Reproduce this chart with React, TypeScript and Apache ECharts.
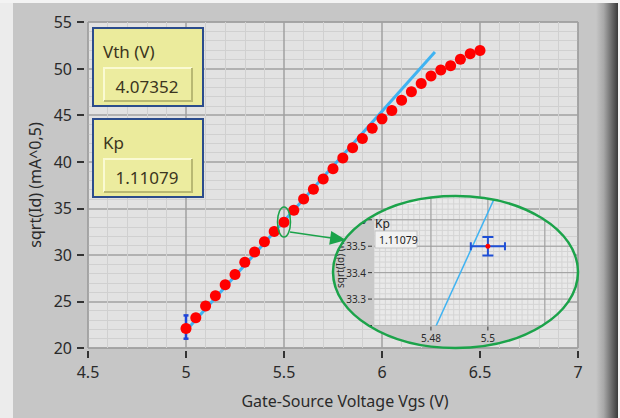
import React, { useEffect, useRef } from "react";
import * as echarts from "echarts";

// ---- data ----
const vgs = [5.0, 5.05, 5.1, 5.15, 5.2, 5.25, 5.3, 5.35, 5.4, 5.45, 5.5, 5.55, 5.6, 5.65, 5.7, 5.75, 5.8, 5.85, 5.9, 5.95, 6.0, 6.05, 6.1, 6.15, 6.2, 6.25, 6.3, 6.35, 6.4, 6.45, 6.5];
const sqrtId = [22.1, 23.25, 24.5, 25.6, 26.8, 27.9, 29.2, 30.3, 31.4, 32.5, 33.5, 34.8, 36.0, 37.05, 38.15, 39.25, 40.4, 41.5, 42.5, 43.6, 44.6, 45.5, 46.6, 47.5, 48.4, 49.2, 49.85, 50.3, 51.0, 51.6, 51.95];
const fitX = [5.0, 6.27];
const fitY = [21.84, 51.78];
const errBarMain = [5.0, 21.0, 23.5]; // x, low, high

const vthLabel = "Vth (V)";
const vthValue = "4.07352";
const kpLabel = "Kp";
const kpValue = "1.11079";

const xTitle = "Gate-Source Voltage Vgs (V)";
const yTitle = "sqrt(Id) (mA^0,5)";

// zoomed inset
const insetPoint = [5.5, 33.5];
const insetErrX = [5.494, 5.506];
const insetErrY = [33.465, 33.535];
const insetXTicks = [5.48, 5.5, 5.52];
const insetYTicks = [33.2, 33.3, 33.4, 33.5, 33.6];
const insetYTitle = "sqrt(Id) (mA^0,5)";

const FONT = '"Noto Sans", "Open Sans", sans-serif';
const TXT = "#2a2a2a";
const GREEN = "#1ba34a";
const ELL = { cx: 455.5, cy: 272, rx: 122.5, ry: 76 };

function fmtTick(v: number) {
  return String(parseFloat(v.toFixed(3)));
}

function insetRender(params: any, api: any) {
  const cs = params.coordSys;
  const px = (x: number, y: number) => api.coord([x, y]);
  const bottom = cs.y + cs.height;
  const right = cs.x + cs.width;
  const inner: any[] = [];
  inner.push({ type: "rect", shape: { x: cs.x, y: cs.y, width: cs.width, height: cs.height }, style: { fill: "#e9e9e9" } });
  for (let i = 0; i <= 40; i++) {
    const v = 5.46 + i * 0.002;
    const a = px(v, 33.3);
    inner.push({ type: "line", shape: { x1: a[0], y1: cs.y, x2: a[0], y2: bottom }, style: { stroke: "#d4d4d4", lineWidth: 1 } });
  }
  for (let j = 0; j <= 30; j++) {
    const v = 33.2 + j * 0.02;
    const a = px(5.5, v);
    inner.push({ type: "line", shape: { x1: cs.x, y1: a[1], x2: right, y2: a[1] }, style: { stroke: "#d4d4d4", lineWidth: 1 } });
  }
  insetXTicks.forEach((t) => {
    const a = px(t, 33.3);
    inner.push({ type: "line", shape: { x1: a[0], y1: cs.y, x2: a[0], y2: bottom }, style: { stroke: "#9c9c9c", lineWidth: 1 } });
  });
  insetYTicks.forEach((t) => {
    const a = px(5.5, t);
    inner.push({ type: "line", shape: { x1: cs.x, y1: a[1], x2: right, y2: a[1] }, style: { stroke: "#9c9c9c", lineWidth: 1 } });
  });
  const f1 = px(fitX[0], fitY[0]);
  const f2 = px(fitX[1], fitY[1]);
  inner.push({ type: "line", shape: { x1: f1[0], y1: f1[1], x2: f2[0], y2: f2[1] }, style: { stroke: "#3fb3f2", lineWidth: 1.5 } });
  // error cross
  const c = px(api.value(0), api.value(1));
  const xl = px(api.value(2), api.value(1));
  const xr = px(api.value(3), api.value(1));
  const yl = px(api.value(0), api.value(4));
  const yh = px(api.value(0), api.value(5));
  const eb = { stroke: "#1e4fd6", lineWidth: 2 };
  inner.push({ type: "line", shape: { x1: xl[0], y1: c[1], x2: xr[0], y2: c[1] }, style: eb });
  inner.push({ type: "line", shape: { x1: xl[0], y1: c[1] - 4, x2: xl[0], y2: c[1] + 4 }, style: eb });
  inner.push({ type: "line", shape: { x1: xr[0], y1: c[1] - 4, x2: xr[0], y2: c[1] + 4 }, style: eb });
  inner.push({ type: "line", shape: { x1: c[0], y1: yl[1], x2: c[0], y2: yh[1] }, style: eb });
  inner.push({ type: "line", shape: { x1: c[0] - 5.5, y1: yl[1], x2: c[0] + 5.5, y2: yl[1] }, style: eb });
  inner.push({ type: "line", shape: { x1: c[0] - 5.5, y1: yh[1], x2: c[0] + 5.5, y2: yh[1] }, style: eb });
  inner.push({ type: "circle", shape: { cx: c[0], cy: c[1], r: 2.5 }, style: { fill: "#ff0000" } });
  // value boxes of the zoomed graph
  inner.push({ type: "rect", shape: { x: cs.x + 1, y: cs.y - 10, width: 42, height: 18 }, style: { fill: "#efefef" } });
  inner.push({ type: "text", x: cs.x + 1, y: 223, style: { text: kpLabel, font: "12px " + FONT, fill: "#222", verticalAlign: "middle", textVerticalAlign: "middle" } });
  inner.push({ type: "rect", shape: { x: cs.x + 1, y: 231, width: 42, height: 17 }, style: { fill: "#f2f2f2", stroke: "#c4c4c4", lineWidth: 1 } });
  inner.push({ type: "text", x: cs.x + 5, y: 239.5, style: { text: kpValue, font: "10.5px " + FONT, fill: "#222", verticalAlign: "middle", textVerticalAlign: "middle" } });

  const children: any[] = [];
  children.push({ type: "rect", shape: { x: ELL.cx - ELL.rx, y: ELL.cy - ELL.ry, width: 2 * ELL.rx, height: 2 * ELL.ry }, style: { fill: "#c9c9c9" } });
  children.push({ type: "group", children: inner, clipPath: { type: "rect", shape: { x: cs.x, y: cs.y, width: cs.width, height: cs.height } } });
  insetYTicks.forEach((t) => {
    const a = px(5.5, t);
    children.push({ type: "line", shape: { x1: cs.x - 6, y1: a[1], x2: cs.x - 2, y2: a[1] }, style: { stroke: "#333", lineWidth: 1 } });
    children.push({ type: "text", x: cs.x - 8, y: a[1], style: { text: fmtTick(t), font: "10px " + FONT, fill: TXT, align: "right", textAlign: "right", verticalAlign: "middle", textVerticalAlign: "middle" } });
  });
  insetXTicks.forEach((t) => {
    const a = px(t, 33.3);
    children.push({ type: "line", shape: { x1: a[0], y1: bottom + 1, x2: a[0], y2: bottom + 5 }, style: { stroke: "#333", lineWidth: 1 } });
    children.push({ type: "text", x: a[0], y: bottom + 12, style: { text: fmtTick(t), font: "10px " + FONT, fill: TXT, align: "center", textAlign: "center", verticalAlign: "middle", textVerticalAlign: "middle" } });
  });
  children.push({ type: "text", x: 340, y: 288, rotation: Math.PI / 2, style: { text: insetYTitle, font: "10px " + FONT, fill: TXT, align: "left", textAlign: "left", verticalAlign: "middle", textVerticalAlign: "middle" } });
  return { type: "group", clipPath: { type: "ellipse", shape: { cx: ELL.cx, cy: ELL.cy, rx: ELL.rx, ry: ELL.ry } }, children };
}

function errRender(params: any, api: any) {
  const lo = api.coord([api.value(0), api.value(1)]);
  const hi = api.coord([api.value(0), api.value(2)]);
  const st = { stroke: "#1f44d8", lineWidth: 2.5 };
  return {
    type: "group",
    children: [
      { type: "line", shape: { x1: lo[0], y1: lo[1], x2: hi[0], y2: hi[1] }, style: st },
      { type: "line", shape: { x1: lo[0] - 2.5, y1: lo[1], x2: lo[0] + 2.5, y2: lo[1] }, style: st },
      { type: "line", shape: { x1: hi[0] - 2.5, y1: hi[1], x2: hi[0] + 2.5, y2: hi[1] }, style: st },
    ],
  };
}

function yellowBox(y: number, label: string, value: string): any[] {
  const f = "17px " + FONT;
  const tc = "#3b3520";
  return [
    { type: "rect", z: 100, shape: { x: 93, y, width: 110, height: 78 }, style: { fill: "#ebeb9c", stroke: "#2b4c8c", lineWidth: 2 } },
    { type: "text", z: 101, x: 103, y: y + 23, style: { text: label, font: f, fill: tc, verticalAlign: "middle", textVerticalAlign: "middle" } },
    { type: "rect", z: 101, shape: { x: 104, y: y + 40, width: 88, height: 33 }, style: { fill: "#ecec9f" } },
    { type: "polyline", z: 102, shape: { points: [[104, y + 73], [104, y + 40], [192, y + 40]] }, style: { stroke: "#fafad2", lineWidth: 2, fill: "none" } },
    { type: "polyline", z: 102, shape: { points: [[104, y + 73], [192, y + 73], [192, y + 40]] }, style: { stroke: "#b8b872", lineWidth: 2, fill: "none" } },
    { type: "text", z: 103, x: 147, y: y + 58, style: { text: value, font: f, fill: tc, align: "center", textAlign: "center", verticalAlign: "middle", textVerticalAlign: "middle" } },
  ];
}

const option: any = {
  animation: false,
  backgroundColor: "#c6c6c6",
  grid: [
    { left: 88, right: 42, top: 22, bottom: 70, show: true, backgroundColor: "#e2e2e2", borderColor: "#8e8e8e", borderWidth: 1 },
    { left: 374, top: 196, width: 205, height: 129.5, show: false },
  ],
  xAxis: [
    {
      type: "value", gridIndex: 0, min: 4.5, max: 7, interval: 0.5, offset: 3,
      name: xTitle, nameLocation: "middle", nameGap: 42,
      nameTextStyle: { fontFamily: FONT, fontSize: 16, color: TXT, padding: [0, 0, 0, 24] },
      axisLine: { show: false },
      axisTick: { show: true, length: 7, lineStyle: { color: "#333", width: 2 } },
      axisLabel: { margin: 13, fontSize: 16, color: TXT, fontFamily: FONT },
      splitLine: { show: true, lineStyle: { color: "#a0a0a0", width: 1.5 } },
      minorTick: { show: false, splitNumber: 5 },
      minorSplitLine: { show: true, lineStyle: { color: "#d0d0d0", width: 1 } },
    },
    { type: "value", gridIndex: 1, min: 5.46, max: 5.532, show: false },
  ],
  yAxis: [
    {
      type: "value", gridIndex: 0, min: 20, max: 55, interval: 5, offset: 4,
      name: yTitle, nameLocation: "middle", nameGap: 41,
      nameTextStyle: { fontFamily: FONT, fontSize: 16, color: TXT },
      axisLine: { show: false },
      axisTick: { show: true, length: 7, lineStyle: { color: "#333", width: 2 } },
      axisLabel: { margin: 12, fontSize: 16, color: TXT, fontFamily: FONT },
      splitLine: { show: true, lineStyle: { color: "#a0a0a0", width: 1.5 } },
      minorTick: { show: false, splitNumber: 5 },
      minorSplitLine: { show: true, lineStyle: { color: "#d0d0d0", width: 1 } },
    },
    { type: "value", gridIndex: 1, min: 33.2, max: 33.69, show: false },
  ],
  series: [
    {
      type: "line", xAxisIndex: 0, yAxisIndex: 0, z: 2,
      data: fitX.map((x, i) => [x, fitY[i]]),
      symbol: "none", showSymbol: false,
      lineStyle: { color: "#3fb3f2", width: 3 },
    },
    {
      type: "custom", xAxisIndex: 0, yAxisIndex: 0, z: 3,
      data: [errBarMain], renderItem: errRender,
    },
    {
      type: "scatter", xAxisIndex: 0, yAxisIndex: 0, z: 4,
      data: vgs.map((x, i) => [x, sqrtId[i]]),
      symbolSize: 11, itemStyle: { color: "#ff0000", opacity: 1 },
    },
    {
      type: "custom", xAxisIndex: 1, yAxisIndex: 1, z: 5, clip: false,
      data: [[insetPoint[0], insetPoint[1], insetErrX[0], insetErrX[1], insetErrY[0], insetErrY[1]]],
      renderItem: insetRender,
    },
  ],
  graphic: [
    { type: "rect", z: 1, shape: { x: 0, y: 0, width: 13, height: 418 }, style: { fill: "#ececec" } },
    { type: "rect", z: 1, shape: { x: 0, y: 0, width: 620, height: 3 }, style: { fill: "#f3f3f3" } },
    {
      type: "rect", z: 1, shape: { x: 596, y: 3, width: 22, height: 415 },
      style: { fill: new echarts.graphic.LinearGradient(0, 0, 1, 0, [{ offset: 0, color: "#c6c6c6" }, { offset: 0.35, color: "#a8a8a8" }, { offset: 1, color: "#3a3a3a" }]) },
    },
    { type: "rect", z: 1, shape: { x: 618, y: 0, width: 2, height: 418 }, style: { fill: "#f3f3f3" } },
    ...yellowBox(28, vthLabel, vthValue),
    ...yellowBox(119, kpLabel, kpValue),
    { type: "ellipse", z: 110, shape: { cx: ELL.cx, cy: ELL.cy, rx: ELL.rx, ry: ELL.ry }, style: { fill: "none", stroke: GREEN, lineWidth: 2.5 } },
    { type: "ellipse", z: 110, shape: { cx: 284, cy: 222, rx: 6.5, ry: 15 }, style: { fill: "none", stroke: GREEN, lineWidth: 1.5 } },
    { type: "line", z: 110, shape: { x1: 290, y1: 232, x2: 333, y2: 238.3 }, style: { stroke: GREEN, lineWidth: 1.5 } },
    { type: "polygon", z: 110, shape: { points: [[346, 240], [331.2, 230.9], [329.2, 244.7]] }, style: { fill: GREEN } },
  ],
};

export default function App() {
  const ref = useRef<HTMLDivElement>(null);
  useEffect(() => {
    const chart = echarts.init(ref.current!, null, { renderer: "svg" });
    chart.setOption(option);
    return () => chart.dispose();
  }, []);
  return <div ref={ref} style={{ position: "fixed", left: 0, top: 0, width: 620, height: 418 }} />;
}
